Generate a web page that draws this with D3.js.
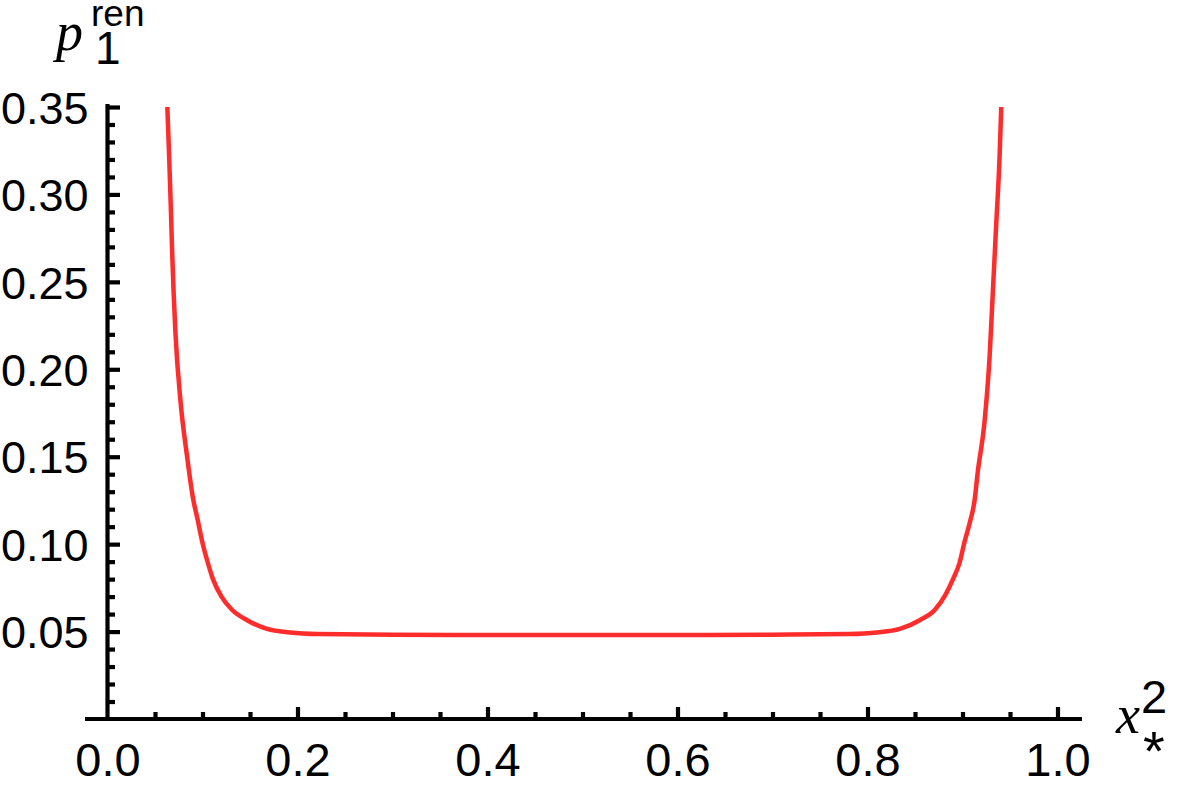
<!DOCTYPE html>
<html>
<head>
<meta charset="utf-8">
<script src="https://cdn.jsdelivr.net/npm/d3@7"></script>
<style>
  html, body { margin: 0; padding: 0; background: #ffffff; }
  svg { display: block; }
</style>
</head>
<body>
<svg id="chart" width="1177" height="798"></svg>
<script>
// ---- data ----
const xValues = [0.0630, 0.0650, 0.0668, 0.0680, 0.0715, 0.0768, 0.0838, 0.0904, 0.0945, 0.0999,
                 0.1050, 0.1110, 0.1200, 0.1310, 0.1470, 0.1680, 0.1920, 0.2210, 0.3000, 0.4000,
                 0.5000, 0.6000, 0.7000, 0.7810, 0.8100, 0.8340, 0.8550, 0.8710, 0.8820, 0.8900,
                 0.8970, 0.9020, 0.9075, 0.9127, 0.9160, 0.9230, 0.9285, 0.9320, 0.9355, 0.9390,
                 0.9408];
const pValues = [0.350, 0.320, 0.290, 0.268, 0.221, 0.182, 0.150, 0.125, 0.115, 0.101,
                 0.0905, 0.0800, 0.0700, 0.0625, 0.0565, 0.0515, 0.0495, 0.0486, 0.0482, 0.0480,
                 0.0480, 0.0480, 0.0482, 0.0486, 0.0495, 0.0515, 0.0565, 0.0625, 0.0710, 0.0800,
                 0.0895, 0.101, 0.112, 0.125, 0.141, 0.169, 0.207, 0.245, 0.283, 0.321,
                 0.350];
const xMajorTicks = [0.2, 0.4, 0.6, 0.8, 1.0];
const xTickLabels = ["0.0", "0.2", "0.4", "0.6", "0.8", "1.0"];
const xLabelTicks = [0.0, 0.2, 0.4, 0.6, 0.8, 1.0];
const xMinorTicks = [0.05, 0.1, 0.15, 0.25, 0.3, 0.35, 0.45, 0.5, 0.55, 0.65, 0.7, 0.75, 0.85, 0.9, 0.95];
const yMajorTicks = [0.05, 0.10, 0.15, 0.20, 0.25, 0.30, 0.35];
const yTickLabels = ["0.05", "0.10", "0.15", "0.20", "0.25", "0.30", "0.35"];
const yMinorTicks = [0.01, 0.02, 0.03, 0.04, 0.06, 0.07, 0.08, 0.09, 0.11, 0.12, 0.13, 0.14,
                     0.16, 0.17, 0.18, 0.19, 0.21, 0.22, 0.23, 0.24, 0.26, 0.27, 0.28, 0.29,
                     0.31, 0.32, 0.33, 0.34];

const svg = d3.select("#chart");
const x = d3.scaleLinear().domain([0, 1]).range([107.5, 1057.5]);
const y = d3.scaleLinear().domain([0, 0.35]).range([719, 107]);

const AXIS_W = 4.2;
const labelFont = "'Liberation Sans', Arial, sans-serif";

// ---- x axis ----
const gx = svg.append("g").attr("transform", `translate(0,${y(0)})`);
gx.append("line").attr("x1", 85).attr("x2", 1082).attr("y1", 0).attr("y2", 0)
  .attr("stroke", "#000").attr("stroke-width", AXIS_W);
gx.append("g").call(d3.axisBottom(x).tickValues(xMajorTicks).tickSizeInner(-12).tickSizeOuter(0).tickFormat(""))
  .call(g => g.select(".domain").remove())
  .call(g => g.selectAll(".tick line").attr("stroke", "#000").attr("stroke-width", AXIS_W));
gx.append("g").call(d3.axisBottom(x).tickValues(xMinorTicks).tickSizeInner(-7).tickSizeOuter(0).tickFormat(""))
  .call(g => g.select(".domain").remove())
  .call(g => g.selectAll(".tick line").attr("stroke", "#000").attr("stroke-width", AXIS_W));
gx.append("g").call(d3.axisBottom(x).tickValues(xLabelTicks).tickSize(0).tickPadding(0)
      .tickFormat((d, i) => xTickLabels[i]))
  .call(g => g.select(".domain").remove())
  .call(g => g.selectAll(".tick text")
      .attr("y", 57).attr("dy", null)
      .attr("font-family", labelFont).attr("font-size", 47).attr("fill", "#000"));

// ---- y axis ----
const gy = svg.append("g").attr("transform", `translate(${x(0)},0)`);
gy.append("line").attr("x1", 0).attr("x2", 0).attr("y1", 104).attr("y2", y(0) + 2)
  .attr("stroke", "#000").attr("stroke-width", AXIS_W);
gy.append("g").call(d3.axisLeft(y).tickValues(yMajorTicks).tickSizeInner(-12.5).tickSizeOuter(0).tickFormat(""))
  .call(g => g.select(".domain").remove())
  .call(g => g.selectAll(".tick line").attr("stroke", "#000").attr("stroke-width", AXIS_W));
gy.append("g").call(d3.axisLeft(y).tickValues(yMinorTicks).tickSizeInner(-7.5).tickSizeOuter(0).tickFormat(""))
  .call(g => g.select(".domain").remove())
  .call(g => g.selectAll(".tick line").attr("stroke", "#000").attr("stroke-width", AXIS_W));
gy.append("g").call(d3.axisLeft(y).tickValues(yMajorTicks).tickSize(0).tickPadding(19)
      .tickFormat((d, i) => yTickLabels[i]))
  .call(g => g.select(".domain").remove())
  .call(g => g.selectAll(".tick text")
      .attr("font-family", labelFont).attr("font-size", 45).attr("fill", "#000")
      .attr("dy", "0.36em"));

// ---- curve ----
const pts = xValues.map((d, i) => [d, pValues[i]]);
const line = d3.line().x(d => x(d[0])).y(d => y(d[1])).curve(d3.curveMonotoneX);
svg.append("path").datum(pts).attr("d", line)
  .attr("fill", "none").attr("stroke", "#ff1a1a").attr("stroke-width", 4.5)
  .attr("stroke-linejoin", "round").attr("stroke-opacity", 0.92);

// ---- axis labels ----
const serif = "'Liberation Serif', 'Times New Roman', serif";
svg.append("text").attr("x", 56).attr("y", 50).attr("font-family", serif).attr("font-style", "italic")
  .attr("font-size", 54).attr("fill", "#000").text("p");
svg.append("text").attr("x", 95).attr("y", 64).attr("font-family", labelFont).attr("font-size", 46).attr("fill", "#000").text("1");
svg.append("text").attr("x", 91).attr("y", 26).attr("font-family", labelFont).attr("font-size", 37).attr("fill", "#000").text("ren");

svg.append("text").attr("x", 1116).attr("y", 733).attr("font-family", serif).attr("font-style", "italic")
  .attr("font-size", 54).attr("fill", "#000").text("x");
svg.append("text").attr("x", 1154).attr("y", 713).attr("text-anchor", "middle").attr("font-family", labelFont)
  .attr("font-size", 47).attr("fill", "#000").text("2");
svg.append("text").attr("x", 1154).attr("y", 770).attr("text-anchor", "middle").attr("font-family", labelFont)
  .attr("font-size", 56).attr("fill", "#000").text("*");
</script>
</body>
</html>
